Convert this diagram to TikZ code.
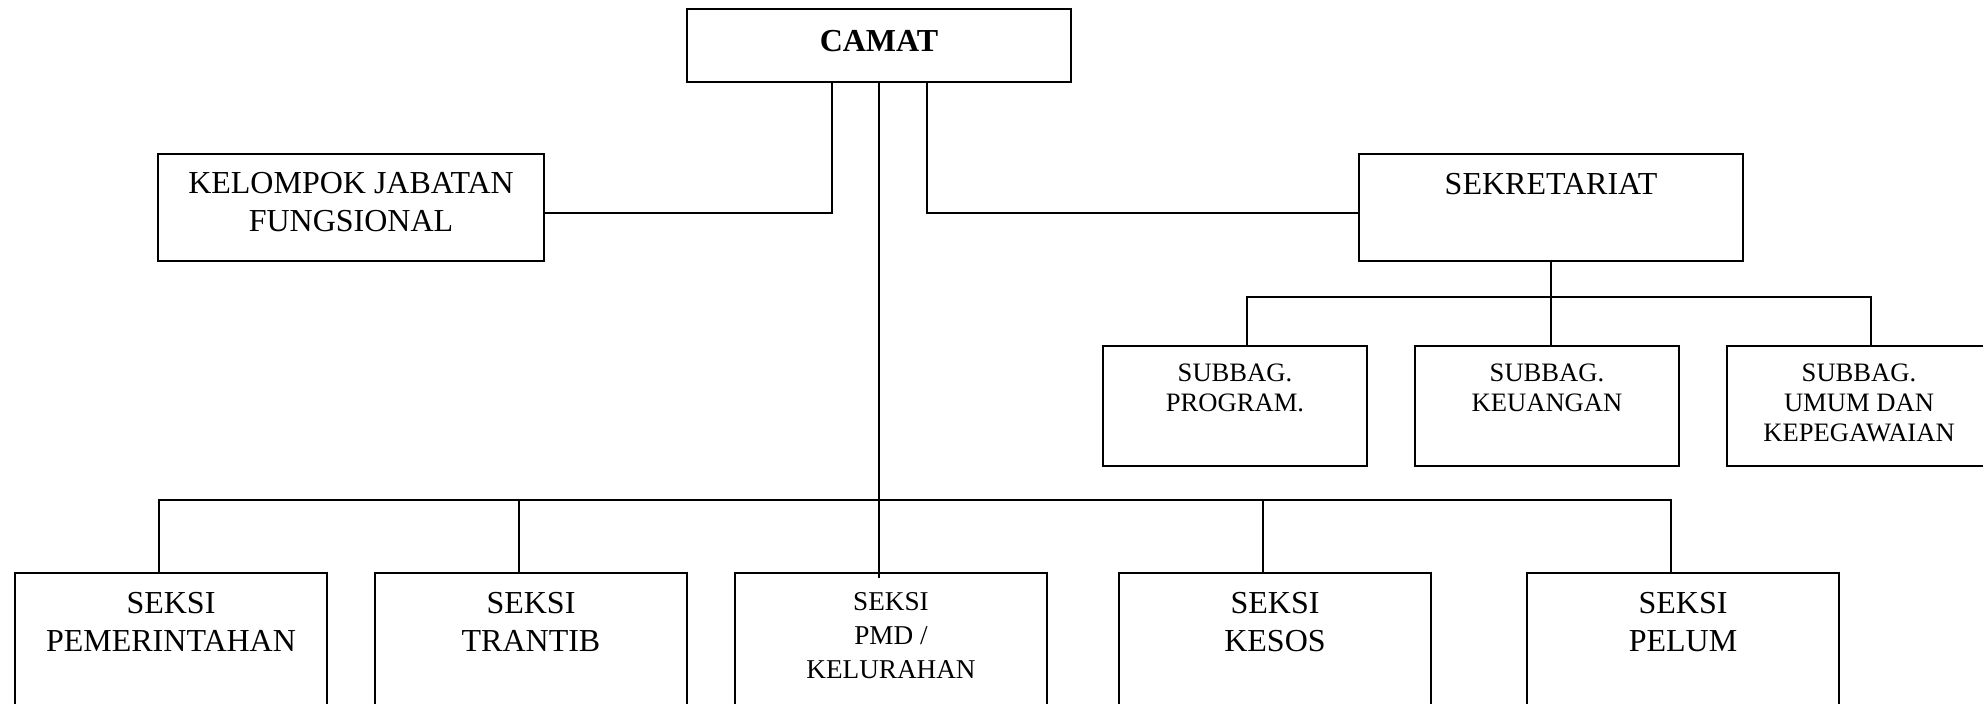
\documentclass[tikz,border=0pt]{standalone}
\usepackage{fontspec}
\setmainfont{Liberation Serif}
\usetikzlibrary{positioning}

\begin{document}
\begin{tikzpicture}[x=0.5pt,y=-0.5pt,line width=1.15pt,
      box/.style={draw,rectangle,inner sep=0pt},
      txt/.style={align=center,inner sep=0pt,font=\fontsize{16}{19}\selectfont},
      kecil/.style={align=center,inner sep=0pt,font=\fontsize{13.3}{15}\selectfont}]
                      \useasboundingbox (0,0) rectangle (1983,704);
                      \clip (0,0) rectangle (1983,704);

                      \node[box,minimum width=192pt,minimum height=36.5pt] (camat) at (879,45.5) {};
                      \node[box,minimum width=193pt,minimum height=53.5pt] (kel)   at (351,207.5) {};
                      \node[box,minimum width=192pt,minimum height=53.5pt] (sek)   at (1551,207.5) {};
                      \foreach \n/\x in {prg/1235,keu/1547,umu/1859}
                          \node[box,minimum width=132pt,minimum height=60pt] (\n) at (\x,406) {};
                      \foreach \n/\x in {pem/171,tra/531,pmd/891,kes/1275,pel/1683}
                          \node[box,minimum width=156pt,minimum height=90pt] (\n) at (\x,663) {};

                      \node[txt,font=\fontsize{16}{19}\selectfont\bfseries,below=10.5pt of camat.north] (camatT) {CAMAT};
                      \node[txt,below=9pt of kel.north]   (kelT) {KELOMPOK JABATAN\\FUNGSIONAL};
                      \node[txt,below=9.5pt of sek.north] (sekT) {SEKRETARIAT};
                      \node[kecil,below=9pt of prg.north] (prgT) {SUBBAG.\\PROGRAM.};
                      \node[kecil,below=9pt of keu.north] (keuT) {SUBBAG.\\KEUANGAN};
                      \node[kecil,below=9pt of umu.north] (umuT) {SUBBAG.\\UMUM DAN\\KEPEGAWAIAN};
                      \node[txt,below=9.5pt of pem.north] (pemT) {SEKSI\\PEMERINTAHAN};
                      \node[txt,below=9.5pt of tra.north] (traT) {SEKSI\\TRANTIB};
                      \node[kecil,font=\fontsize{13.6}{17}\selectfont,below=9.5pt of pmd.north] (pmdT) {SEKSI\\PMD /\\KELURAHAN};
                      \node[txt,below=9.5pt of kes.north] (kesT) {SEKSI\\KESOS};
                      \node[txt,below=9.5pt of pel.north] (pelT) {SEKSI\\PELUM};

                      \draw ([xshift=-23.5pt]camat.south) |- ([yshift=-2.75pt]kel.east);
                      \draw ([xshift=24pt]camat.south) |- ([yshift=-2.75pt]sek.west);
                      \draw (camat.south) -- ([xshift=-6pt,yshift=-3pt]pmd.north);

                      \draw ([xshift=-6pt]pem.north) -- ++(0,-72) -| ([xshift=-6pt]pel.north);
                      \foreach \n in {tra,kes}
                          \draw ([xshift=-6pt]\n.north) -- ++(0,-72);

                      \draw (sek.south) -- ([xshift=2pt]keu.north);
                      \draw ([xshift=6pt]prg.north) -- ++(0,-48) -| ([xshift=6pt]umu.north);
\end{tikzpicture}
\end{document}
